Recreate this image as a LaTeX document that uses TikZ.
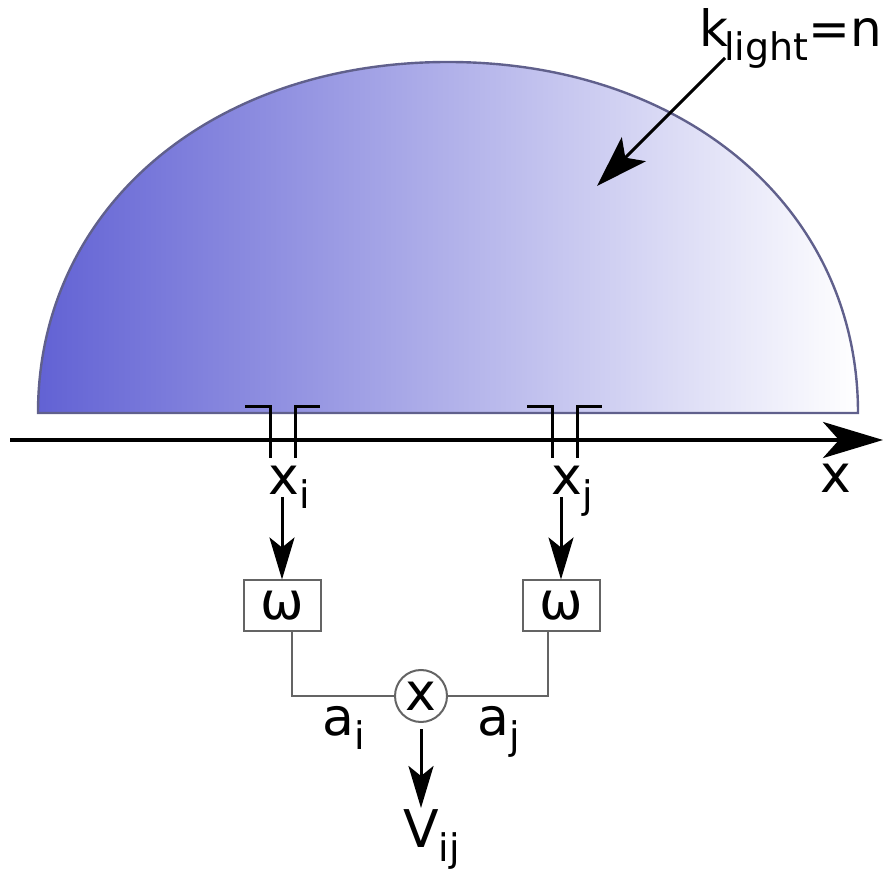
\documentclass[tikz,border=0pt]{standalone}
\usepackage{fontspec}
\setmainfont{DejaVu Sans}
\usetikzlibrary{arrows.meta}
\definecolor{domo}{RGB}{98,98,212}
\definecolor{borde}{RGB}{96,96,140}
\definecolor{caja}{RGB}{100,100,100}
\newcommand{\subidx}[1]{\raisebox{-7pt}{\fontsize{19}{19}\selectfont #1}}
\begin{document}
\begin{tikzpicture}[x=0.5pt,y=-0.5pt,
		etiqueta/.style={inner sep=0pt, anchor=base west, font=\fontsize{26}{30}\selectfont},
		bloque/.style={draw=caja, line width=1pt, minimum width=38.5pt, minimum height=25.5pt, inner sep=0pt, font=\fontsize{26}{30}\selectfont},
		flecha/.style={line width=1.5pt, -{Stealth[length=21pt,width=12.5pt,inset=5pt]}}]
			\useasboundingbox (0,0) rectangle (883,870);

			% Semicielo
			\shadedraw[left color=domo, right color=white, draw=borde, line width=1.2pt]
				(38,413) .. controls (38,209) and (210,62) .. (448,62)
				.. controls (686,62) and (858,209) .. (858,413) -- cycle;

			% Eje
			\draw[line width=2pt, -{Stealth[length=30pt,width=18pt,inset=8pt]}] (10,440) -- (883,440);
			\node[etiqueta] (ejex) at (820,493) {x};

			% Antenas
			\foreach \c in {282.5,564.5}
				{
					\draw[line width=1.5pt] (\c-37.5,407) -- (\c-12.5,407) -- (\c-12.5,458);
					\draw[line width=1.5pt] (\c+12.5,458) -- (\c+12.5,407) -- (\c+37.5,407);
				}
			\node[etiqueta] (xi) at (268,495) {x\subidx{i}};
			\node[etiqueta] (xj) at (551,495) {x\subidx{j}};

			% Correlador
			\node[bloque] (wi) at (282,606) {ω};
			\node[bloque] (wj) at (561,606) {ω};
			\node[draw=caja, line width=1pt, circle, minimum size=26pt, inner sep=0pt, font=\fontsize{26}{30}\selectfont] (mul) at (421,696) {x};
			\draw[flecha] (wi.north |- 0,497) -- (wi.north);
			\draw[flecha] (wj.north |- 0,497) -- (wj.north);
			\draw[caja, line width=0.7pt] ([xshift=5pt]wi.south) |- (mul.west);
			\draw[caja, line width=0.7pt] ([xshift=-6.5pt]wj.south) |- (mul.east);
			\node[etiqueta] (ai) at (322,735) {a\subidx{i}};
			\node[etiqueta] (aj) at (477,735) {a\subidx{j}};
			\node[etiqueta] (vij) at (403,847) {V\subidx{ij}};
			\coordinate (vtop) at (421,808);
			\draw[flecha] ([yshift=-3pt]mul.south) -- (vtop);

			% Luz
			\node[etiqueta, font=\fontsize{25}{30}\selectfont] (klight) at (699,47) {k\kern-2pt\subidx{light}=n};
			\coordinate (kfin) at (597,186);
			\draw[line width=1.5pt, -{Stealth[length=26pt,width=17pt,inset=6pt]}] (725,58) -- (kfin);

		\end{tikzpicture}
\end{document}
